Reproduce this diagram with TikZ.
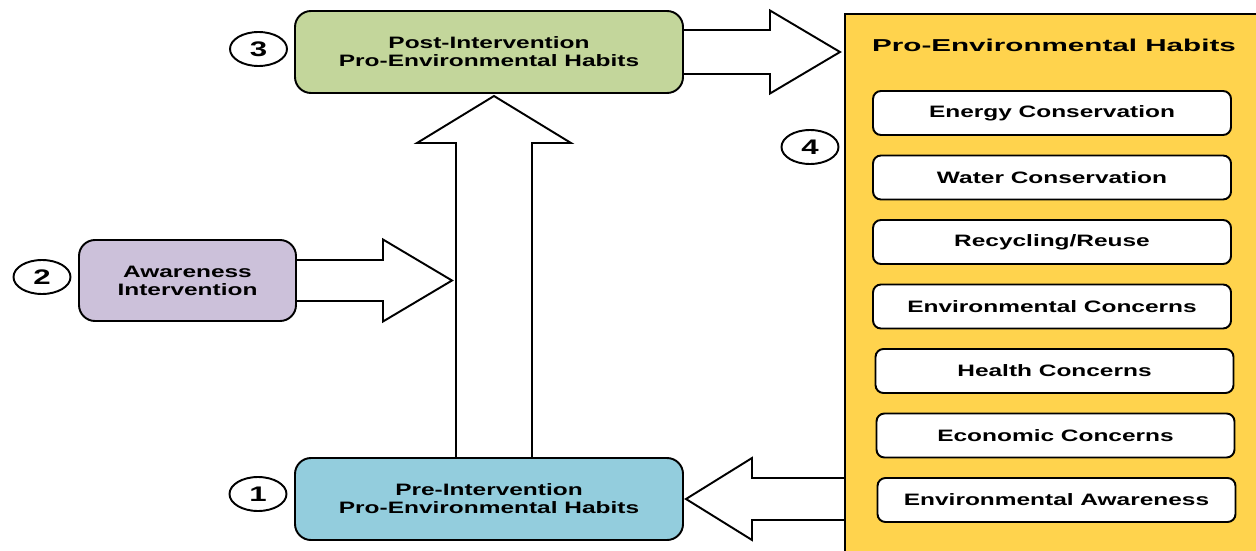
\documentclass[tikz,border=0pt]{standalone}
\usepackage{fontspec}
\newfontfamily\boxfont{Liberation Sans}[FakeStretch=1.48]
\newfontfamily\headfont{Liberation Sans}[FakeStretch=1.72]
\usepackage{xcolor}
\definecolor{colorPre}{HTML}{93CDDD}
\definecolor{colorPost}{HTML}{C3D69B}
\definecolor{colorAware}{HTML}{CCC1DA}
\definecolor{colorPanel}{HTML}{FFD34D}
\usetikzlibrary{positioning, calc, shapes.geometric}
\tikzset{
  stage/.style={draw, rounded corners=0.32cm, line width=1.1pt, outer sep=0pt, minimum width=7.76cm, minimum height=1.64cm, align=center, font=\boxfont\bfseries\fontsize{9.4pt}{10.2pt}\selectfont},
  habit/.style={draw, fill=white, rounded corners=0.16cm, line width=1.1pt, outer sep=0pt, minimum width=7.16cm, minimum height=0.88cm, font=\boxfont\bfseries\fontsize{9.4pt}{10.2pt}\selectfont},
  num/.style={draw, ellipse, line width=1.1pt, outer sep=0pt, inner sep=0pt, minimum width=1.14cm, minimum height=0.68cm, font=\boxfont\bfseries\fontsize{12pt}{12pt}\selectfont},
  hollow/.style={draw, fill=white, line width=1.1pt, line join=miter}
}

\begin{document}
\begin{tikzpicture}[node distance=0.41cm]
\useasboundingbox (0,0) rectangle (25.12,-11);
\clip (0,0) rectangle (25.12,-11);
% right panel with the habits
\node[draw, fill=colorPanel, line width=1.1pt, outer sep=0pt, anchor=north west, minimum width=8.8cm, minimum height=11.2cm] (panel) at (16.9,-0.28) {};
\node[font=\headfont\bfseries\fontsize{9.8pt}{11pt}\selectfont] (title) at (21.08,-0.9) {Pro-Environmental Habits};
\node[habit] (e1) at (21.04,-2.26) {Energy Conservation};
\node[habit, below=of e1] (e2) {Water Conservation};
\node[habit, below=of e2] (e3) {Recycling/Reuse};
\node[habit, below=of e3] (e4) {Environmental Concerns};
\node[habit, below=of e4, xshift=0.05cm] (e5) {Health Concerns};
\node[habit, below=of e5, xshift=0.02cm] (e6) {Economic Concerns};
\node[habit, below=of e6, xshift=0.02cm] (e7) {Environmental Awareness};
% stages
\node[stage, fill=colorPost] (post) at (9.78,-1.04) {Post-Intervention\\Pro-Environmental Habits};
\node[stage, fill=colorPre, below=7.3cm of post] (pre) {Pre-Intervention\\Pro-Environmental Habits};
\node[stage, fill=colorAware, minimum width=4.34cm, minimum height=1.62cm] (aware) at (3.75,-5.61) {Awareness\\Intervention};
% numbers
\node[num, left=0.16cm of post, yshift=0.06cm] (n3) {3};
\node[num, left=0.17cm of aware, yshift=0.07cm] (n2) {2};
\node[num, left=0.17cm of pre, yshift=0.1cm] (n1) {1};
\node[num] (n4) at (16.2,-2.94) {4};
% block arrows
\coordinate (up) at ($(pre.north)+(0.1,0)$);
\draw[hollow] ($(post.east)+(0,0.44)$) -- ++(1.74,0) -- ++(0,0.39) -- ($(panel.west |- post.east)+(-0.1,0)$) -- ($(post.east)+(1.74,-0.83)$) -- ++(0,0.39) -- ($(post.east)+(0,-0.44)$) -- cycle;
\draw[hollow] ($(aware.east)+(0,0.41)$) -- ++(1.74,0) -- ++(0,0.41) -- ($(up |- aware.east)+(-0.84,0)$) -- ($(aware.east)+(1.74,-0.82)$) -- ++(0,0.41) -- ($(aware.east)+(0,-0.41)$) -- cycle;
\draw[hollow] ($(up)+(-0.76,0)$) -- ++(0,6.3) -- ++(-0.78,0) -- ($(up |- post.south)+(0,-0.06)$) -- ($(up)+(1.54,6.3)$) -- ++(-0.78,0) -- ($(up)+(0.76,0)$) -- cycle;
\draw[hollow] ($(panel.west |- pre.east)+(0,0.42)$) -- ++(-1.86,0) -- ++(0,0.4) -- ($(pre.east)+(0.06,0)$) -- ($(panel.west |- pre.east)+(-1.86,-0.82)$) -- ++(0,0.4) -- ($(panel.west |- pre.east)+(0,-0.42)$) -- cycle;
\end{tikzpicture}
\end{document}
